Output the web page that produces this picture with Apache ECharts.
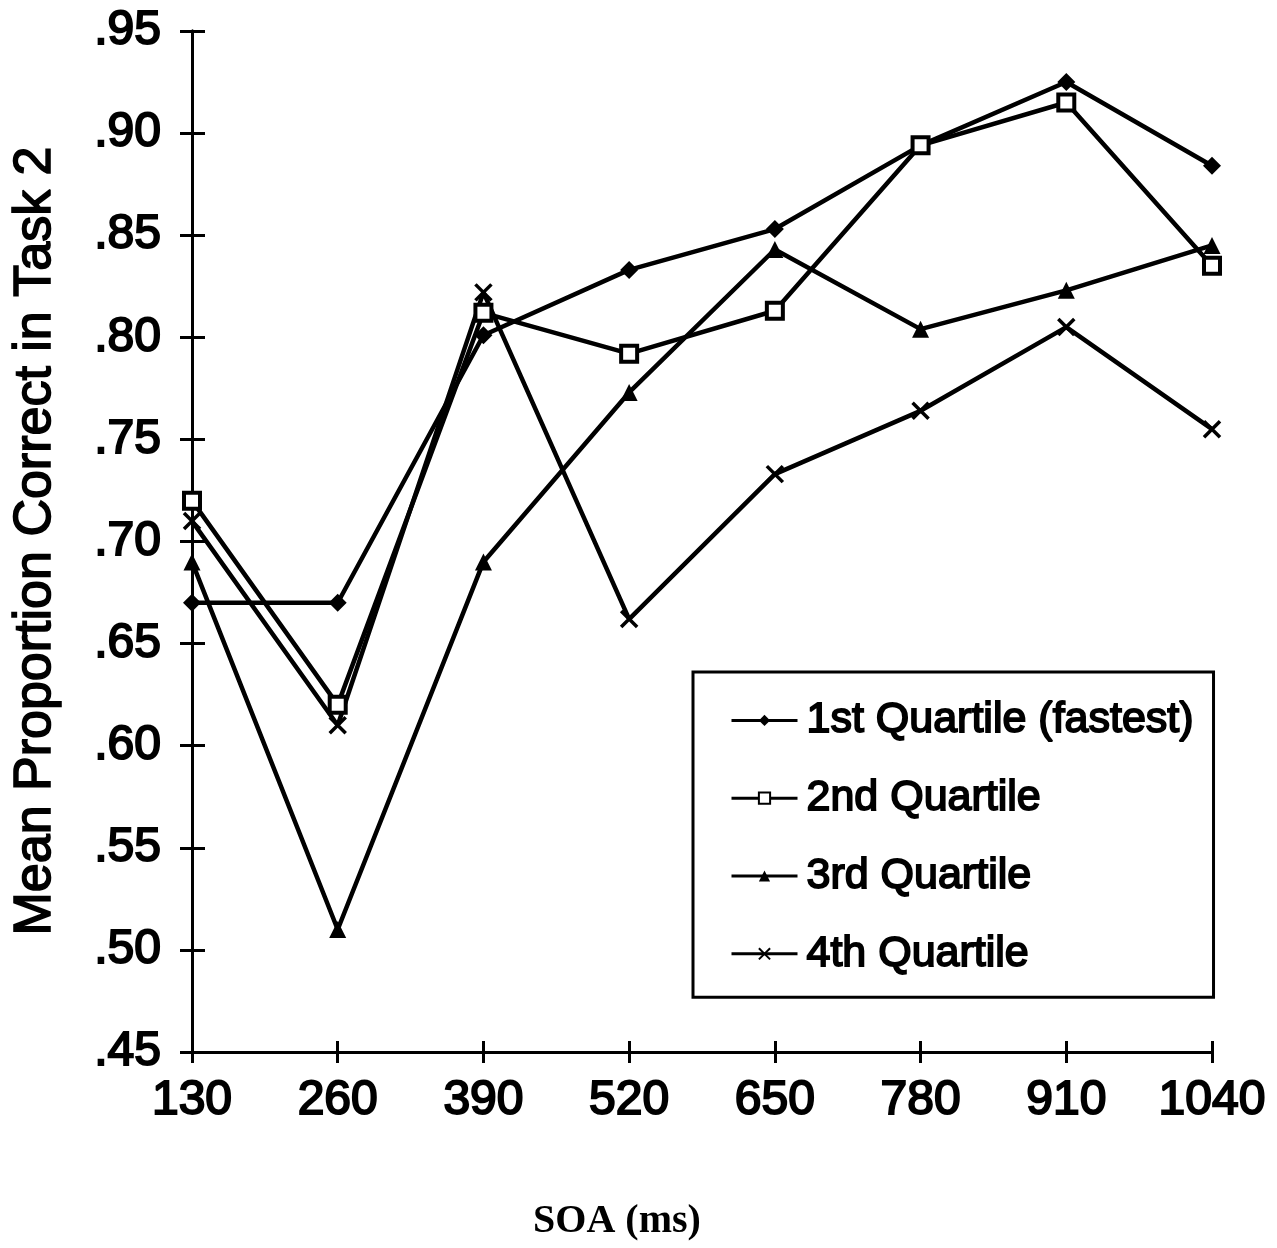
<!DOCTYPE html>
<html>
<head>
<meta charset="utf-8">
<script src="https://cdn.jsdelivr.net/npm/echarts@6/dist/echarts.min.js"></script>
<style>
html,body{margin:0;padding:0;background:#fff;}
#chart{width:1277px;height:1248px;}
</style>
</head>
<body>
<div id="chart"></div>
<script>
// SOA conditions (ms)
const soa = [130, 260, 390, 520, 650, 780, 910, 1040];
// Mean proportion correct in Task 2, by RT quartile
const q1 = [0.670, 0.670, 0.801, 0.833, 0.853, 0.894, 0.925, 0.884];
const q2 = [0.720, 0.620, 0.812, 0.792, 0.813, 0.894, 0.915, 0.835];
const q3 = [0.690, 0.510, 0.690, 0.773, 0.843, 0.804, 0.823, 0.845];
const q4 = [0.710, 0.610, 0.822, 0.662, 0.733, 0.764, 0.805, 0.755];
const seriesNames = ['1st Quartile (fastest)', '2nd Quartile', '3rd Quartile', '4th Quartile'];

const FONT = 'Liberation Sans';
const pair = arr => soa.map((x, i) => [x, arr[i]]);
const crossPath = 'path://M0,0 L10,10 M10,0 L0,10';

function lineSeries(name, data, symbol, size, itemStyle) {
  return {
    name, type: 'line', data: pair(data), symbol, symbolSize: size,
    xAxisIndex: 0, yAxisIndex: 0,
    lineStyle: { color: '#000', width: 4.5 },
    itemStyle: Object.assign({ color: '#000', borderColor: '#000', borderWidth: 0 }, itemStyle),
    emphasis: { disabled: true }, animation: false, z: 3
  };
}

const fmtY = v => {
  const r = Math.round(v * 100) / 100;
  return r.toFixed(2).replace(/^0/, '');
};

const labelText = { color: '#000', fontFamily: FONT, fontSize: 48, textBorderColor: '#000', textBorderWidth: 2 };

const baseY = {
  type: 'value', min: 0.45, max: 0.95, interval: 0.05,
  axisLine: { show: true, lineStyle: { color: '#000', width: 3 } },
  splitLine: { show: false }
};
const baseX = {
  type: 'value', min: 130, max: 1040, interval: 130,
  axisLine: { show: true, lineStyle: { color: '#000', width: 3 } },
  splitLine: { show: false }
};

const chart = echarts.init(document.getElementById('chart'), null, { renderer: 'canvas' });
chart.setOption({
  backgroundColor: '#fff',
  animation: false,
  grid: { left: 192, right: 65, top: 31, bottom: 196, containLabel: false },
  xAxis: [
    Object.assign({}, baseX, {
      axisTick: { show: true, length: 11, lineStyle: { color: '#000', width: 3 } },
      axisLabel: Object.assign({ margin: 25, formatter: v => String(Math.round(v)) }, labelText)
    }),
    Object.assign({}, baseX, {
      gridIndex: 0, position: 'bottom',
      axisTick: { show: true, inside: true, length: 11, lineStyle: { color: '#000', width: 3 } },
      axisLabel: { show: false }
    })
  ],
  yAxis: [
    Object.assign({}, baseY, {
      axisTick: { show: true, length: 12, lineStyle: { color: '#000', width: 3 } },
      axisLabel: Object.assign({ margin: 31, formatter: fmtY }, labelText)
    }),
    Object.assign({}, baseY, {
      gridIndex: 0, position: 'left',
      axisTick: { show: true, inside: true, length: 13, lineStyle: { color: '#000', width: 3 } },
      axisLabel: { show: false }
    })
  ],
  legend: {
    show: true, orient: 'vertical', left: 693, top: 672,
    padding: [26, 19, 21, 37],
    itemGap: 33, itemWidth: 66, itemHeight: 14,
    borderColor: '#000', borderWidth: 3, backgroundColor: '#fff',
    lineStyle: { width: 3, color: '#000' },
    textStyle: { color: '#000', fontFamily: FONT, fontSize: 43, lineHeight: 44, padding: [0, 0, 0, 4], textBorderColor: '#000', textBorderWidth: 1.8 },
    data: seriesNames, selectedMode: false
  },
  series: [
    lineSeries(seriesNames[0], q1, 'diamond', 18, {}),
    lineSeries(seriesNames[1], q2, 'rect', 16, { color: '#fff', borderColor: '#000', borderWidth: 4 }),
    lineSeries(seriesNames[2], q3, 'triangle', 17, {}),
    lineSeries(seriesNames[3], q4, crossPath, 16, { color: 'none', borderColor: '#000', borderWidth: 3.5 })
  ],
  graphic: [
    {
      type: 'text',
      style: { text: 'Mean Proportion Correct in Task 2', fill: '#000', font: '52px "Liberation Sans"', textAlign: 'center', textVerticalAlign: 'middle', stroke: '#000', lineWidth: 1.6 },
      x: 36, y: 541, rotation: Math.PI / 2
    },
    {
      type: 'text',
      style: { text: 'SOA (ms)', fill: '#000', font: 'bold 40px "Liberation Serif"', textAlign: 'center', textVerticalAlign: 'middle' },
      x: 617, y: 1222
    }
  ]
});
</script>
</body>
</html>
